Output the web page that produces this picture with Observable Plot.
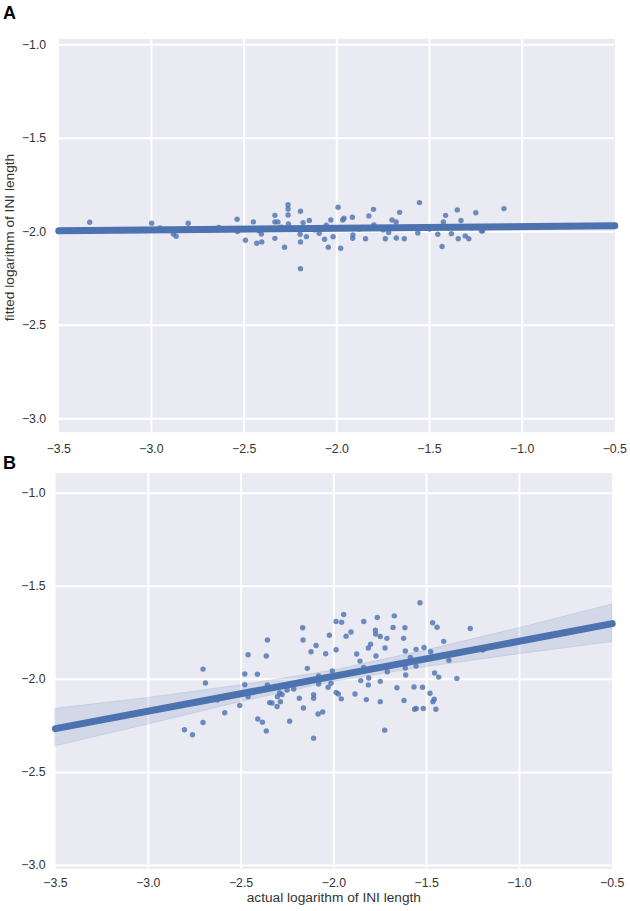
<!DOCTYPE html>
<html><head><meta charset="utf-8">
<script src="https://cdn.jsdelivr.net/npm/d3@7"></script>
<script src="https://cdn.jsdelivr.net/npm/@observablehq/plot@0.6"></script>
<style>
html,body{margin:0;padding:0;background:#fff;width:630px;height:911px;overflow:hidden;font-family:"Liberation Sans",Arial,sans-serif;}
#wrap{position:relative;width:630px;height:911px;}
.panel{position:absolute;left:0;}
.letter{position:absolute;font-weight:bold;font-size:18px;line-height:1;color:#000;}
</style></head><body>
<div id="wrap">
<div id="pa" class="panel" style="top:0px"></div>
<div id="pb" class="panel" style="top:460px"></div>
<div class="letter" style="left:3px;top:4px">A</div>
<div class="letter" style="left:3px;top:454px">B</div>
</div>
<script>
// ---- tick labels ----
const xTicks = [-3.5, -3.0, -2.5, -2.0, -1.5, -1.0, -0.5];
const yTicks = [-3.0, -2.5, -2.0, -1.5, -1.0];
const xGridTicks = [-3.0, -2.5, -2.0, -1.5, -1.0];
const yLabelA = "fitted logarithm of INI length";
const xLabelB = "actual logarithm of INI length";

// ---- panel A: scatter (actual vs fitted) ----
const aX = [-3.333,-2.999,-2.954,-2.882,-2.867,-2.802,-2.637,
 -2.538,-2.536,-2.493,-2.450,-2.432,-2.405,-2.407,-2.357,-2.334,-2.334,-2.318,-2.334,-2.282,
 -2.263,-2.263,-2.263,-2.261,-2.196,-2.196,-2.196,-2.198,-2.182,-2.164,-2.148,-2.095,-2.066,
 -2.057,-2.046,-2.032,-2.020,-1.993,-1.979,-1.968,-1.961,-1.916,-1.914,-1.913,-1.845,-1.827,
 -1.802,-1.800,-1.738,-1.720,-1.702,-1.680,-1.679,-1.661,-1.636,-1.554,-1.563,-1.455,-1.432,
 -1.413,-1.425,-1.382,-1.350,-1.345,-1.330,-1.307,-1.288,-1.250,-1.214,-1.098,
 -2.70,-2.60,-2.42,-2.30,-2.12,-1.88,-1.75,-1.60,-1.50,-1.40,-1.27,-1.22];
const aY = [-1.949,-1.954,-1.979,-2.012,-2.024,-1.954,-1.977,
 -1.933,-1.999,-2.045,-1.947,-2.061,-2.054,-2.012,-1.983,-1.912,-1.947,-1.947,-2.035,-2.083,
 -1.855,-1.878,-1.910,-1.958,-1.890,-2.054,-2.197,-2.013,-1.951,-2.026,-1.939,-2.008,-2.040,
 -1.965,-2.083,-1.937,-2.026,-1.869,-2.088,-1.937,-1.928,-1.922,-2.035,-2.017,-2.037,-1.915,
 -1.880,-1.963,-2.037,-2.004,-1.937,-1.947,-2.033,-1.896,-2.037,-1.844,-2.006,-2.013,-2.079,
 -1.912,-1.947,-2.010,-1.883,-2.037,-1.940,-2.022,-2.037,-1.898,-1.996,-1.876,
 -1.990,-1.985,-1.995,-1.975,-1.990,-1.985,-1.990,-1.975,-1.985,-1.980,-1.980,-1.995];
const aLineX = [-3.5, -0.5];
const aLineY = [-1.995, -1.968];

// ---- panel B: scatter (actual vs fitted) ----
const bX = [-2.705,-2.692,-2.805,-2.762,-2.705,-2.629,-2.588,-2.507,-2.480,-2.480,-2.462,-2.462,
 -2.412,-2.410,-2.385,-2.364,-2.364,-2.358,-2.358,-2.346,-2.333,-2.306,-2.304,-2.292,-2.288,
 -2.279,-2.252,-2.238,-2.216,-2.186,-2.168,-2.166,-2.164,-2.143,-2.123,-2.109,-2.109,-2.109,
 -2.096,-2.085,-2.082,-2.082,-2.060,-2.044,-2.031,-2.024,-2.015,-2.008,-1.988,-1.988,-1.988,
 -1.976,-1.958,-1.960,-1.947,-1.934,-1.908,-1.886,-1.877,-1.859,-1.855,-1.839,-1.839,-1.825,
 -1.814,-1.814,-1.812,-1.802,-1.776,-1.775,-1.773,-1.766,-1.750,-1.750,-1.750,-1.724,-1.726,
 -1.714,-1.712,-1.681,-1.674,-1.660,-1.624,-1.622,-1.617,-1.615,-1.615,-1.613,-1.588,-1.568,
 -1.565,-1.557,-1.556,-1.557,-1.536,-1.522,-1.518,-1.514,-1.482,-1.478,-1.468,-1.466,-1.459,
 -1.457,-1.450,-1.444,-1.435,-1.408,-1.380,-1.337,-1.265,-1.197];
const bY = [-1.945,-2.020,-2.271,-2.298,-2.232,-2.111,-2.180,-2.141,-1.971,-2.029,-1.868,-2.093,
 -1.973,-2.213,-2.230,-2.277,-1.875,-1.789,-2.030,-2.125,-2.127,-2.146,-2.093,-2.073,-2.120,
 -2.082,-2.057,-2.225,-2.052,-2.102,-1.723,-1.789,-2.154,-1.941,-1.852,-2.082,-2.102,-2.316,
 -1.818,-2.186,-2.025,-1.982,-2.175,-1.863,-2.043,-1.763,-2.021,-1.955,-1.841,-1.689,-2.071,
 -2.079,-1.693,-2.105,-1.652,-1.768,-1.746,-2.079,-1.864,-1.902,-2.007,-1.689,-1.936,-2.109,
 -1.832,-2.030,-1.993,-1.811,-1.736,-1.757,-1.875,-1.668,-1.770,-2.011,-2.120,-1.832,-2.273,
 -1.780,-1.959,-1.721,-1.659,-2.045,-1.780,-2.114,-1.723,-1.848,-1.939,-1.977,-1.882,-2.041,
 -2.161,-1.839,-2.157,-1.929,-1.589,-2.043,-2.157,-1.829,-2.075,-1.852,-1.696,-2.120,-2.107,
 -1.966,-2.161,-1.720,-1.988,-1.796,-1.898,-1.995,-1.727,-1.843];
const bLineX = [-3.5, -0.5];
const bLineY = [-2.265, -1.701];
const bBandX  = [-3.5, -3.0, -2.5, -2.0, -1.5, -1.0, -0.5];
const bBandLo = [-2.360, -2.243, -2.122, -2.013, -1.934, -1.865, -1.800];
const bBandHi = [-2.158, -2.100, -2.032, -1.953, -1.844, -1.725, -1.598];

// ---- build tables ----
const zip = (xs, ys) => xs.map((x, i) => ({x, y: ys[i]}));
const ptsA = zip(aX, aY), lineA = zip(aLineX, aLineY);
const ptsB = zip(bX, bY), lineB = zip(bLineX, bLineY);
const bandB = bBandX.map((x, i) => ({x, lo: bBandLo[i], hi: bBandHi[i]}));

const fmt = d3.format(".1f");
const FONT = '"Liberation Sans", Arial, sans-serif';
const BLUE = "#4C72B0";

function panel({pts, line, band, yDomain, height, mt, mb, ml, mr, xPad, yPad, yLabel, xLabel}) {
  const marks = [
    Plot.frame({fill: "#EAEAF2", stroke: "none"}),
    Plot.gridX({ticks: xGridTicks, stroke: "white", strokeOpacity: 1, strokeWidth: 2}),
    Plot.gridY({ticks: yTicks, stroke: "white", strokeOpacity: 1, strokeWidth: 2}),
  ];
  if (band) marks.push(Plot.areaY(band, {x: "x", y1: "lo", y2: "hi", fill: BLUE, fillOpacity: 0.15, stroke: BLUE, strokeOpacity: 0.15, strokeWidth: 1}));
  marks.push(
    Plot.dot(pts, {x: "x", y: "y", r: 2.7, fill: BLUE, fillOpacity: 0.8, stroke: "none"}),
    Plot.line(line, {x: "x", y: "y", stroke: BLUE, strokeWidth: 7, strokeLinecap: "round"}),
    Plot.axisX({ticks: xTicks, tickSize: 0, tickPadding: xPad, tickFormat: fmt, label: null, fill: "#333"}),
    Plot.axisY({ticks: yTicks, tickSize: 0, tickPadding: yPad, tickFormat: fmt, label: null, fill: "#333"})
  );
  if (yLabel) marks.push(Plot.text([yLabel], {text: d => d, frameAnchor: "left", textAnchor: "middle", lineAnchor: "middle", dx: -49, dy: 2, rotate: -90, fontSize: 13.7, fill: "#333"}));
  if (xLabel) marks.push(Plot.text([xLabel], {text: d => d, frameAnchor: "bottom", textAnchor: "middle", lineAnchor: "middle", dy: 29.3, fontSize: 13.7, fill: "#333"}));
  return Plot.plot({
    width: 630, height,
    marginTop: mt, marginBottom: mb, marginLeft: ml, marginRight: mr,
    x: {domain: [-3.5, -0.5]},
    y: {domain: yDomain},
    style: {fontFamily: FONT, fontSize: "12.3px", color: "#333", background: "transparent", overflow: "visible"},
    marks
  });
}

document.getElementById("pa").append(panel({
  pts: ptsA, line: lineA, band: null, yDomain: [-3.0717, -0.968],
  height: 460, mt: 38.3, mb: 460 - 431.7, ml: 58.3, mr: 630 - 614.3,
  xPad: 12, yPad: 12.6, yLabel: yLabelA, xLabel: null
}));
document.getElementById("pb").append(panel({
  pts: ptsB, line: lineB, band: bandB, yDomain: [-3.018, -0.8926],
  height: 451, mt: 472.7 - 460, mb: 911 - 868.3, ml: 55, mr: 630 - 611.7,
  xPad: 9.3, yPad: 10, yLabel: null, xLabel: xLabelB
}));
</script>
</body></html>
